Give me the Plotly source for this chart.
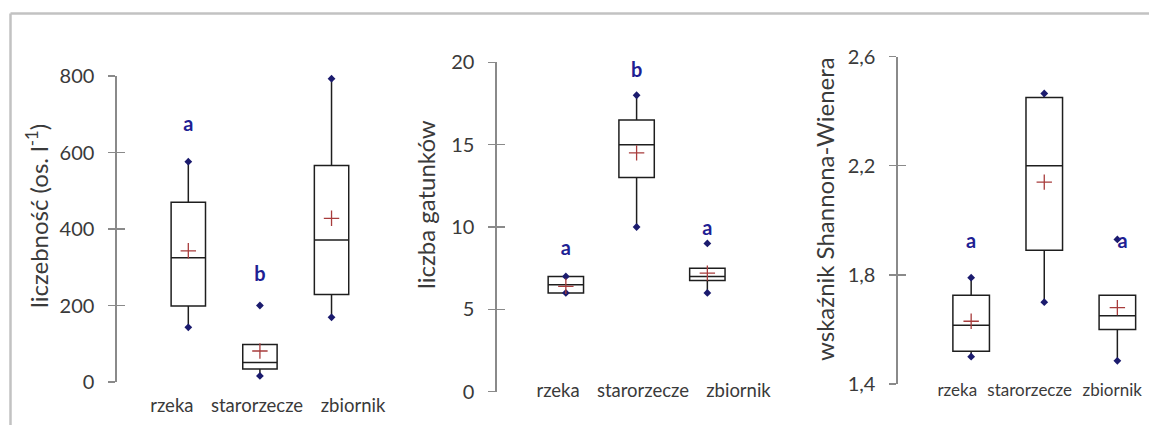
import plotly.graph_objects as go

categories = ["rzeka", "starorzecze", "zbiornik"]
box_pos = [1, 2, 3]

# Panel 1: liczebność
ab_q1 = [199, 34, 229]
ab_median = [325, 51, 371]
ab_q3 = [470, 98, 566]
ab_lower = [143, 16, 169]
ab_upper = [576, 98, 793]
ab_mean = [343, 81, 428]
ab_min = [143, 16, 169]
ab_max = [576, 200, 793]
ab_letters = ["a", "b", "a"]
ab_letter_x = [1, 2, 3]
ab_letter_y = [669, 276, 846]
ab_ticks = [0, 200, 400, 600, 800]
ab_label_x = [0.77, 1.96, 3.30]

# Panel 2: liczba gatunków
sp_q1 = [6.0, 13.0, 6.75]
sp_median = [6.5, 15.0, 7.0]
sp_q3 = [7.0, 16.5, 7.5]
sp_lower = [6.0, 10.0, 6.0]
sp_upper = [7.0, 18.0, 7.5]
sp_mean = [6.4, 14.5, 7.2]
sp_min = [6.0, 10.0, 6.0]
sp_max = [7.0, 18.0, 9.0]
sp_letters = ["a", "b", "a"]
sp_letter_x = [1, 2, 3]
sp_letter_y = [8.6, 19.4, 9.8]
sp_ticks = [0, 5, 10, 15, 20]
sp_label_x = [0.89, 2.09, 3.44]

# Panel 3: wskaźnik Shannona-Wienera
sh_q1 = [1.52, 1.89, 1.60]
sh_median = [1.615, 2.20, 1.65]
sh_q3 = [1.725, 2.45, 1.725]
sh_lower = [1.50, 1.70, 1.485]
sh_upper = [1.79, 2.465, 1.725]
sh_mean = [1.63, 2.14, 1.68]
sh_min = [1.50, 1.70, 1.485]
sh_max = [1.79, 2.465, 1.93]
sh_letters = ["a", "b", "a"]
sh_letter_x = [1, 2, 3.07]
sh_letter_y = [1.916, 2.603, 1.916]
sh_ticks = [1.4, 1.8, 2.2, 2.6]
sh_label_x = [0.81, 1.80, 2.93]

W, H = 1149, 425
FONT = "Lato"
BOX_COLOR = "#1e1e1e"
AXIS_COLOR = "#8a8a8a"
DOT_COLOR = "#1b1b6e"
MEAN_COLOR = "#a83c3c"
LETTER_COLOR = "#1f1f94"
TEXT_COLOR = "#3a3a3a"

panels = [
    dict(q1=ab_q1, med=ab_median, q3=ab_q3, lo=ab_lower, hi=ab_upper, mean=ab_mean,
         mn=ab_min, mx=ab_max, let=ab_letters, lx=ab_letter_x, ly=ab_letter_y,
         ticks=ab_ticks, labx=ab_label_x, yr=[0, 800], xr=[0, 3.6],
         xdom=[116.7, 374.5], ydom=[382, 76], xpos=392, labfont=18.5, tickfmt="d",
         title="liczebność (os. l<sup>-1</sup>)", tx=37, ty=216, width=0.48),
    dict(q1=sp_q1, med=sp_median, q3=sp_q3, lo=sp_lower, hi=sp_upper, mean=sp_mean,
         mn=sp_min, mx=sp_max, let=sp_letters, lx=sp_letter_x, ly=sp_letter_y,
         ticks=sp_ticks, labx=sp_label_x, yr=[0, 20], xr=[0.0226, 3.6],
         xdom=[496.7, 749.8], ydom=[391.7, 62.3], xpos=377, labfont=18.5, tickfmt="d",
         title="liczba gatunków", tx=425, ty=205, width=0.5),
    dict(q1=sh_q1, med=sh_median, q3=sh_q3, lo=sh_lower, hi=sh_upper, mean=sh_mean,
         mn=sh_min, mx=sh_max, let=sh_letters, lx=sh_letter_x, ly=sh_letter_y,
         ticks=sh_ticks, labx=sh_label_x, yr=[1.4, 2.6], xr=[-0.005, 3.4],
         xdom=[897.7, 1146.6], ydom=[384, 56.7], xpos=378, labfont=17, tickfmt=".1f",
         title="wskaźnik Shannona-Wienera", tx=825, ty=209, width=0.5),
]

fig = go.Figure()
layout = dict(
    template="none",
    width=W, height=H, margin=dict(l=0, r=0, t=0, b=0, pad=0), autosize=False,
    paper_bgcolor="white", plot_bgcolor="white", showlegend=False,
    separators=", ", annotations=[], shapes=[],
)

for i, p in enumerate(panels, start=1):
    xa = "x" if i == 1 else f"x{i}"
    ya = "y" if i == 1 else f"y{i}"
    ov = f"y{i + 3}"
    fig.add_trace(go.Box(
        x=box_pos, q1=p["q1"], median=p["med"], q3=p["q3"],
        lowerfence=p["lo"], upperfence=p["hi"], boxpoints=False,
        fillcolor="rgba(255,255,255,0)", line=dict(color=BOX_COLOR, width=1.5),
        whiskerwidth=0, width=p["width"], xaxis=xa, yaxis=ya, hoverinfo="skip",
    ))
    fig.add_trace(go.Scatter(
        x=box_pos + box_pos, y=p["mn"] + p["mx"], mode="markers",
        marker=dict(symbol="diamond", size=6, color=DOT_COLOR),
        xaxis=xa, yaxis=ya, cliponaxis=False, hoverinfo="skip",
    ))
    fig.add_trace(go.Scatter(
        x=box_pos, y=p["mean"], mode="markers",
        marker=dict(symbol="cross-thin", size=11, line=dict(color=MEAN_COLOR, width=1.3)),
        xaxis=xa, yaxis=ya, cliponaxis=False, hoverinfo="skip",
    ))
    fig.add_trace(go.Scatter(
        x=p["lx"], y=p["ly"], mode="text", text=p["let"],
        textfont=dict(family=FONT, size=20, color=LETTER_COLOR, weight="bold"),
        xaxis=xa, yaxis=ya, cliponaxis=False, hoverinfo="skip",
    ))
    fig.add_trace(go.Scatter(x=[None], y=[None], mode="markers", xaxis=xa, yaxis=ov,
                             hoverinfo="skip"))

    xd = [p["xdom"][0] / W, p["xdom"][1] / W]
    yd = [1 - p["ydom"][0] / H, 1 - p["ydom"][1] / H]
    layout["xaxis" if i == 1 else f"xaxis{i}"] = dict(
        domain=xd, range=p["xr"], anchor="free", position=1 - p["xpos"] / H,
        tickmode="array", tickvals=p["labx"], ticktext=categories, ticks="",
        showline=False, showgrid=False, zeroline=False, tickangle=0, automargin=False,
        tickfont=dict(family=FONT, size=p["labfont"], color=TEXT_COLOR), fixedrange=True,
    )
    layout["yaxis" if i == 1 else f"yaxis{i}"] = dict(
        domain=yd, range=p["yr"], anchor=xa, tickmode="array", tickvals=p["ticks"],
        tickformat=p["tickfmt"], showline=True, linecolor=AXIS_COLOR, linewidth=1.3,
        ticks="outside", ticklen=7, tickwidth=1.3, tickcolor=AXIS_COLOR,
        ticklabelstandoff=10, showgrid=False, zeroline=False, automargin=False,
        tickfont=dict(family=FONT, size=20, color=TEXT_COLOR), fixedrange=True,
    )
    layout[f"yaxis{i + 3}"] = dict(
        overlaying=ya, anchor=xa, side="left", range=p["yr"], tickmode="array",
        tickvals=p["ticks"], ticks="inside", ticklen=8, tickwidth=1.3,
        tickcolor=AXIS_COLOR, showticklabels=False, showline=False, automargin=False,
        showgrid=False, zeroline=False, fixedrange=True,
    )
    layout["annotations"].append(dict(
        text=p["title"], textangle=-90, xref="paper", yref="paper",
        x=p["tx"] / W, y=1 - p["ty"] / H, xanchor="center", yanchor="middle",
        showarrow=False, font=dict(family=FONT, size=24, color=TEXT_COLOR),
    ))

# picture frame
layout["shapes"] = [
    dict(type="line", xref="paper", yref="paper", x0=10.5 / W, x1=1, y0=1 - 13.5 / H, y1=1 - 13.5 / H,
         line=dict(color="#c2c2c2", width=2.5)),
    dict(type="line", xref="paper", yref="paper", x0=10.5 / W, x1=10.5 / W, y0=0, y1=1 - 13.5 / H,
         line=dict(color="#c2c2c2", width=2.5)),
]

fig.update_layout(**layout)
fig.write_html(
    "out.html",
    config={"displayModeBar": False, "staticPlot": True},
    post_script="document.body.style.margin='0';document.body.style.overflow='hidden';",
)
